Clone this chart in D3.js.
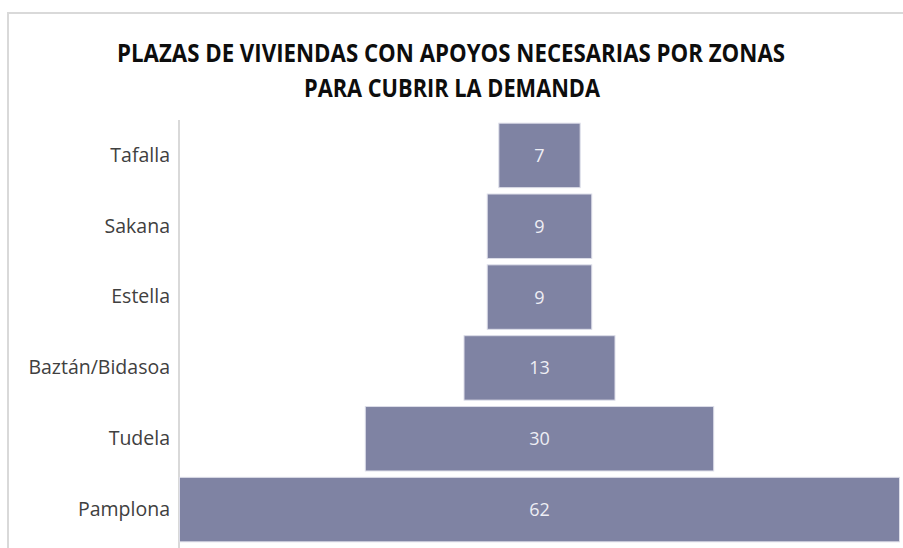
<!DOCTYPE html>
<html>
<head>
<meta charset="utf-8">
<script src="https://cdn.jsdelivr.net/npm/d3@7"></script>
<style>
  body { margin: 0; background: #fff; }
  svg { display: block; }
</style>
</head>
<body>
<div id="chart"></div>
<script>
// zonas, de arriba abajo
const zonas = ["Tafalla", "Sakana", "Estella", "Baztán/Bidasoa", "Tudela", "Pamplona"];
const plazas = [7, 9, 9, 13, 30, 62];
const titulo = ["PLAZAS DE VIVIENDAS CON APOYOS NECESARIAS POR ZONAS", "PARA CUBRIR LA DEMANDA"];

const W = 903, H = 548;
const margin = {top: 120, right: 3, bottom: 3, left: 179};

const svg = d3.select("#chart")
  .append("svg")
  .attr("width", W)
  .attr("height", H);

// marco del grafico
svg.append("rect")
  .attr("x", 8).attr("y", 13)
  .attr("width", W + 20).attr("height", H + 20)
  .attr("fill", "none")
  .attr("stroke", "#d9d9d9")
  .attr("stroke-width", 2);

// titulo
svg.append("text")
  .attr("x", 451).attr("y", 62)
  .attr("text-anchor", "middle")
  .style("font-family", "'Open Sans', sans-serif")
  .style("font-weight", "bold")
  .style("font-size", "25px")
  .attr("fill", "#0d0d0d")
  .attr("textLength", 668)
  .attr("lengthAdjust", "spacingAndGlyphs")
  .text(titulo[0]);
svg.append("text")
  .attr("x", 452).attr("y", 97)
  .attr("text-anchor", "middle")
  .style("font-family", "'Open Sans', sans-serif")
  .style("font-weight", "bold")
  .style("font-size", "25px")
  .attr("fill", "#0d0d0d")
  .attr("textLength", 296)
  .attr("lengthAdjust", "spacingAndGlyphs")
  .text(titulo[1]);

// -------- escalas -------- //
const y = d3.scaleBand()
  .domain(zonas)
  .range([120, 545])
  .paddingInner(0.09)
  .paddingOuter(0.045);

const x = d3.scaleLinear()
  .domain([0, d3.max(plazas)])
  .range([0, 720]);

const centro = 539.5;

// eje vertical (solo linea y etiquetas)
const eje = svg.append("g")
  .attr("transform", `translate(${margin.left},0)`)
  .call(d3.axisLeft(y).tickSize(0).tickPadding(9));
eje.select(".domain").attr("stroke", "#d9d9d9").attr("stroke-width", 2)
  .attr("d", "M0,120V548");
eje.selectAll("text")
  .style("font-family", "'Open Sans', sans-serif")
  .style("font-size", "19.5px")
  .attr("fill", "#404040");

// -------- barras -------- //
const datos = zonas.map((z, i) => ({zona: z, valor: plazas[i]}));

svg.selectAll("rect.barra")
  .data(datos)
  .enter()
  .append("rect")
  .attr("class", "barra")
  .attr("x", d => centro - x(d.valor) / 2)
  .attr("y", d => y(d.zona))
  .attr("width", d => x(d.valor))
  .attr("height", y.bandwidth())
  .attr("fill", "#7f83a3")
  .attr("stroke", "#dcdde8")
  .attr("stroke-width", 1);

svg.selectAll("text.valor")
  .data(datos)
  .enter()
  .append("text")
  .attr("class", "valor")
  .attr("x", centro)
  .attr("y", d => y(d.zona) + y.bandwidth() / 2)
  .attr("dy", "0.36em")
  .attr("text-anchor", "middle")
  .style("font-family", "'Open Sans', sans-serif")
  .style("font-size", "18px")
  .attr("fill", "#eeeef4")
  .text(d => d.valor);
</script>
</body>
</html>
